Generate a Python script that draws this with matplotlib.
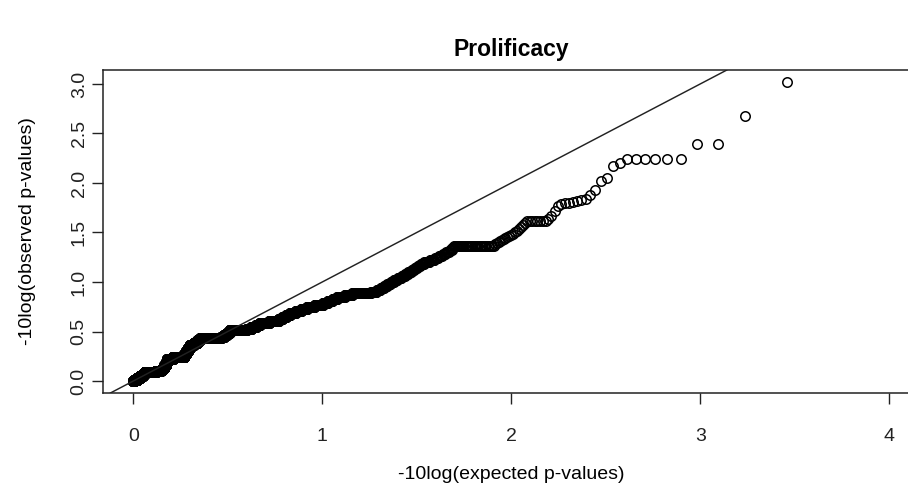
import numpy as np
import matplotlib
matplotlib.use("Agg")
import matplotlib.pyplot as plt

plt.rcParams['font.family'] = ['Liberation Sans', 'DejaVu Sans']

# distinct observed -log10(p) values (sorted, largest first) and how many SNPs share each one
obs_levels = [3.02, 2.68, 2.39, 2.24, 2.20, 2.17, 2.05, 2.02, 1.93, 1.88,
              1.84, 1.83, 1.82, 1.81, 1.80, 1.79, 1.77, 1.72, 1.67, 1.64,
              1.62, 1.60, 1.58, 1.56, 1.54, 1.52, 1.50, 1.48, 1.47, 1.46,
              1.45, 1.44, 1.43, 1.42, 1.41, 1.40, 1.39, 1.38, 1.36,
              1.34, 1.32, 1.30, 1.28, 1.26, 1.24, 1.22, 1.20, 1.18, 1.16,
              1.14, 1.12, 1.10, 1.08, 1.06, 1.04, 1.02, 1.00, 0.98, 0.96,
              0.94, 0.92, 0.90, 0.89, 0.87, 0.85, 0.83, 0.81, 0.79, 0.77,
              0.75, 0.73, 0.71, 0.69, 0.67, 0.65, 0.63, 0.61, 0.59, 0.57,
              0.55, 0.53, 0.52, 0.49, 0.46, 0.44, 0.43, 0.41, 0.38, 0.36,
              0.33, 0.30, 0.27, 0.24, 0.22, 0.19, 0.16, 0.13, 0.11, 0.10,
              0.09, 0.07, 0.05, 0.03, 0.01, 0.00]
obs_counts = [1, 1, 2, 6, 1, 1, 1, 1, 1, 1,
              1, 1, 1, 1, 2, 1, 1, 1, 1, 1,
              8, 1, 1, 1, 1, 1, 1, 1, 1, 1,
              1, 1, 1, 1, 1, 1, 1, 1, 34,
              2, 3, 4, 4, 5, 5, 7, 8, 6, 5,
              5, 5, 6, 6, 7, 8, 8, 7, 8, 8,
              9, 10, 16, 61, 29, 32, 21, 23, 24, 46,
              46, 37, 40, 43, 30, 32, 33, 89, 101, 43,
              58, 61, 250, 47, 48, 51, 427, 67, 94, 97,
              51, 51, 53, 344, 191, 33, 68, 69, 70, 184,
              486, 88, 135, 140, 146, 48]

x_ticks = [0, 1, 2, 3, 4]
y_ticks = [0.0, 0.5, 1.0, 1.5, 2.0, 2.5, 3.0]

observed = np.repeat(obs_levels, obs_counts)
n = len(observed)
rank = np.arange(1, n + 1)
expected = -np.log10((rank + 0.5) / (n + 1))

fig = plt.figure(figsize=(9.08, 4.87), dpi=100)
ax = fig.add_axes([103 / 908, 94 / 487, 816.5 / 908, 323 / 487])

ax.plot(expected, observed, linestyle='none', marker='o', markersize=6.8,
        markerfacecolor='none', markeredgecolor='black', markeredgewidth=1.1)
ax.axline((0, 0), slope=1, color='#222222', linewidth=1.05)

ax.set_xlim(-0.16, 4.16)
ax.set_ylim(-0.1208, 3.1408)

ax.set_xticks(x_ticks)
ax.set_xticklabels([str(t) for t in x_ticks])
ax.set_yticks(y_ticks)
ax.set_yticklabels(['%.1f' % t for t in y_ticks], rotation=90, va='center')

ax.tick_params(axis='both', direction='out', length=8, width=1.0,
               labelsize=14, colors='#222222')
ax.tick_params(axis='x', pad=17)
ax.tick_params(axis='y', pad=3)
for s in ax.spines.values():
    s.set_linewidth(1.1)
    s.set_color('#222222')

ax.set_title('Prolificacy', fontsize=16.5, fontweight='bold', pad=10)
ax.set_xlabel('-10log(expected p-values)', fontsize=14)
ax.set_ylabel('-10log(observed p-values)', fontsize=14)
ax.xaxis.set_label_coords(0.5, -0.225)
ax.yaxis.set_label_coords(-0.082, 0.5)

fig.savefig('out.png', dpi=100)
